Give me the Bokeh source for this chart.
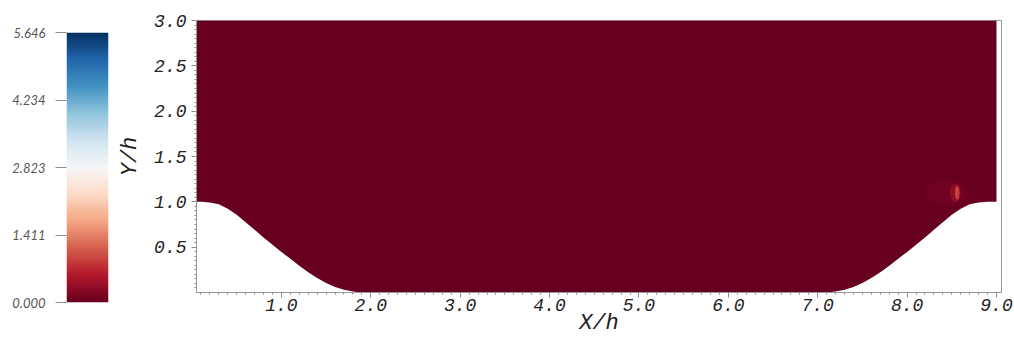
import numpy as np
from bokeh.plotting import figure
from bokeh.layouts import row
from bokeh.models import FixedTicker, LinearColorMapper, Range1d, CustomJSTickFormatter
from bokeh.embed import file_html
from bokeh.resources import INLINE

# ---------------- data ----------------
cbar_min = 0.0
cbar_max = 5.646
cbar_ticks = [0.000, 1.411, 2.823, 4.234, 5.646]

x_ticks = [1.0, 2.0, 3.0, 4.0, 5.0, 6.0, 7.0, 8.0, 9.0]
y_ticks = [0.5, 1.0, 1.5, 2.0, 2.5, 3.0]

domain_length = 9.0
domain_height = 3.0

# left hill profile (x/h, y/h); right hill is its mirror image
hill_x = [0.0, 0.1, 0.2, 0.3, 0.4, 0.5, 0.6, 0.7, 0.8, 0.9, 1.0,
          1.1, 1.2, 1.3, 1.4, 1.5, 1.6, 1.7, 1.8, 1.9, 1.93]
hill_y = [1.0, 1.0, 0.994, 0.972, 0.925, 0.857, 0.776, 0.691, 0.607, 0.527, 0.448,
          0.371, 0.295, 0.224, 0.160, 0.105, 0.062, 0.030, 0.010, 0.001, 0.0]

field_value = 0.02          # nearly uniform field value
spot_x = [8.56]             # local bright spot
spot_y = [1.10]
spot_values = [0.22, 0.5, 1.0]

# RdBu anchors (low -> high)
rdbu = ['#67001f', '#b2182b', '#d6604d', '#f4a582', '#fddbc7', '#f7f7f7',
        '#d1e5f0', '#92c5de', '#4393c3', '#2166ac', '#053061']


def interp_palette(anchors, n=256):
    rgb = np.array([[int(c[i:i + 2], 16) for i in (1, 3, 5)] for c in anchors], float)
    pos = np.linspace(0, 1, len(anchors))
    t = np.linspace(0, 1, n)
    out = []
    for v in t:
        r = np.interp(v, pos, rgb[:, 0]); g = np.interp(v, pos, rgb[:, 1]); b = np.interp(v, pos, rgb[:, 2])
        out.append('#%02x%02x%02x' % (int(round(r)), int(round(g)), int(round(b))))
    return out


palette = interp_palette(rdbu)
mapper = LinearColorMapper(palette=palette, low=cbar_min, high=cbar_max)


def color_of(v):
    i = int((v - cbar_min) / (cbar_max - cbar_min) * (len(palette) - 1))
    return palette[max(0, min(len(palette) - 1, i))]


GRAY = '#8c8c8c'

# ---------------- colour bar figure ----------------
cb = figure(width=115, height=338, x_range=Range1d(0, 1), y_range=Range1d(cbar_min, cbar_max),
            output_backend="svg", toolbar_location=None,
            min_border_left=66, min_border_right=7, min_border_top=32, min_border_bottom=36)
grad = np.linspace(cbar_min, cbar_max, 256).reshape(256, 1)
cb.image(image=[grad], x=0, y=cbar_min, dw=1, dh=cbar_max - cbar_min, color_mapper=mapper)
cb.xaxis.visible = False
cb.grid.visible = False
cb.outline_line_color = None
cb.yaxis.ticker = FixedTicker(ticks=cbar_ticks)
cb.yaxis.formatter = CustomJSTickFormatter(code="return tick.toFixed(3)")
cb.yaxis.axis_line_color = None
cb.yaxis.major_tick_line_color = GRAY
cb.yaxis.major_tick_out = 11
cb.yaxis.major_tick_in = 0
cb.yaxis.minor_tick_line_color = None
cb.yaxis.major_label_standoff = 10
cb.yaxis.major_label_text_font = "Lato"
cb.yaxis.major_label_text_font_style = "italic"
cb.yaxis.major_label_text_font_size = "13px"
cb.yaxis.major_label_text_color = "#555555"
cb.background_fill_color = 'white'
cb.border_fill_color = 'white'

# ---------------- main figure ----------------
p = figure(width=899, height=338, x_range=Range1d(0.05, 9.056), y_range=Range1d(0, domain_height),
           output_backend="svg", toolbar_location=None,
           min_border_left=80, min_border_right=13, min_border_top=20, min_border_bottom=46)
p.grid.visible = False
p.background_fill_color = 'white'
p.border_fill_color = 'white'
p.outline_line_color = '#999999'

for f in (cb, p):
    try:
        f.frame_align = False
    except Exception:
        pass

right_x = [domain_length - x for x in hill_x[::-1]]
right_y = hill_y[::-1]
poly_x = [0.0] + hill_x + right_x + [domain_length, domain_length]
poly_y = [domain_height] + hill_y + right_y + [1.0, domain_height]
p.patch(poly_x, poly_y, fill_color=color_of(field_value), line_color=None)

# bright spot near the right hill crest
p.ellipse(x=[spot_x[0] - 0.12], y=spot_y, width=0.5, height=0.28,
          fill_color=color_of(spot_values[0]), fill_alpha=0.3, line_color=None)
p.ellipse(x=[spot_x[0] - 0.02], y=spot_y, width=0.12, height=0.2,
          fill_color=color_of(spot_values[1]), fill_alpha=0.6, line_color=None)
p.ellipse(x=spot_x, y=spot_y, width=0.05, height=0.15,
          fill_color=color_of(spot_values[2]), fill_alpha=0.85, line_color=None)

x_minor = [round(i * 0.1, 2) for i in range(1, 91)]
y_minor = [round(i * 0.05, 3) for i in range(1, 61)]
p.xaxis.ticker = FixedTicker(ticks=x_ticks, minor_ticks=x_minor)
p.yaxis.ticker = FixedTicker(ticks=y_ticks, minor_ticks=y_minor)
p.xaxis.formatter = CustomJSTickFormatter(code="return tick.toFixed(1)")
p.yaxis.formatter = CustomJSTickFormatter(code="return tick.toFixed(1)")

for ax in (p.xaxis, p.yaxis):
    ax.axis_line_color = '#999999'
    ax.major_tick_line_color = GRAY
    ax.minor_tick_line_color = GRAY
    ax.major_tick_out = 5
    ax.major_tick_in = 0
    ax.minor_tick_out = 2
    ax.minor_tick_in = 0
    ax.major_label_text_font = "Liberation Mono"
    ax.major_label_text_font_style = "italic"
    ax.major_label_text_font_size = "18px"
    ax.major_label_text_color = "#222222"
    ax.axis_label_text_font = "Liberation Mono"
    ax.axis_label_text_font_style = "italic"
    ax.axis_label_text_font_size = "22px"
    ax.axis_label_text_color = "#222222"

p.xaxis.axis_label = "X/h"
p.yaxis.axis_label = "Y/h"
p.xaxis.axis_label_text_line_height = 0.8
p.xaxis.major_label_text_line_height = 0.9
p.xaxis.major_label_standoff = 1
p.yaxis.major_label_standoff = 5
p.xaxis.axis_label_standoff = -3
p.yaxis.axis_label_standoff = 8

layout = row(cb, p)
open("out.html", "w").write(file_html(layout, INLINE))
